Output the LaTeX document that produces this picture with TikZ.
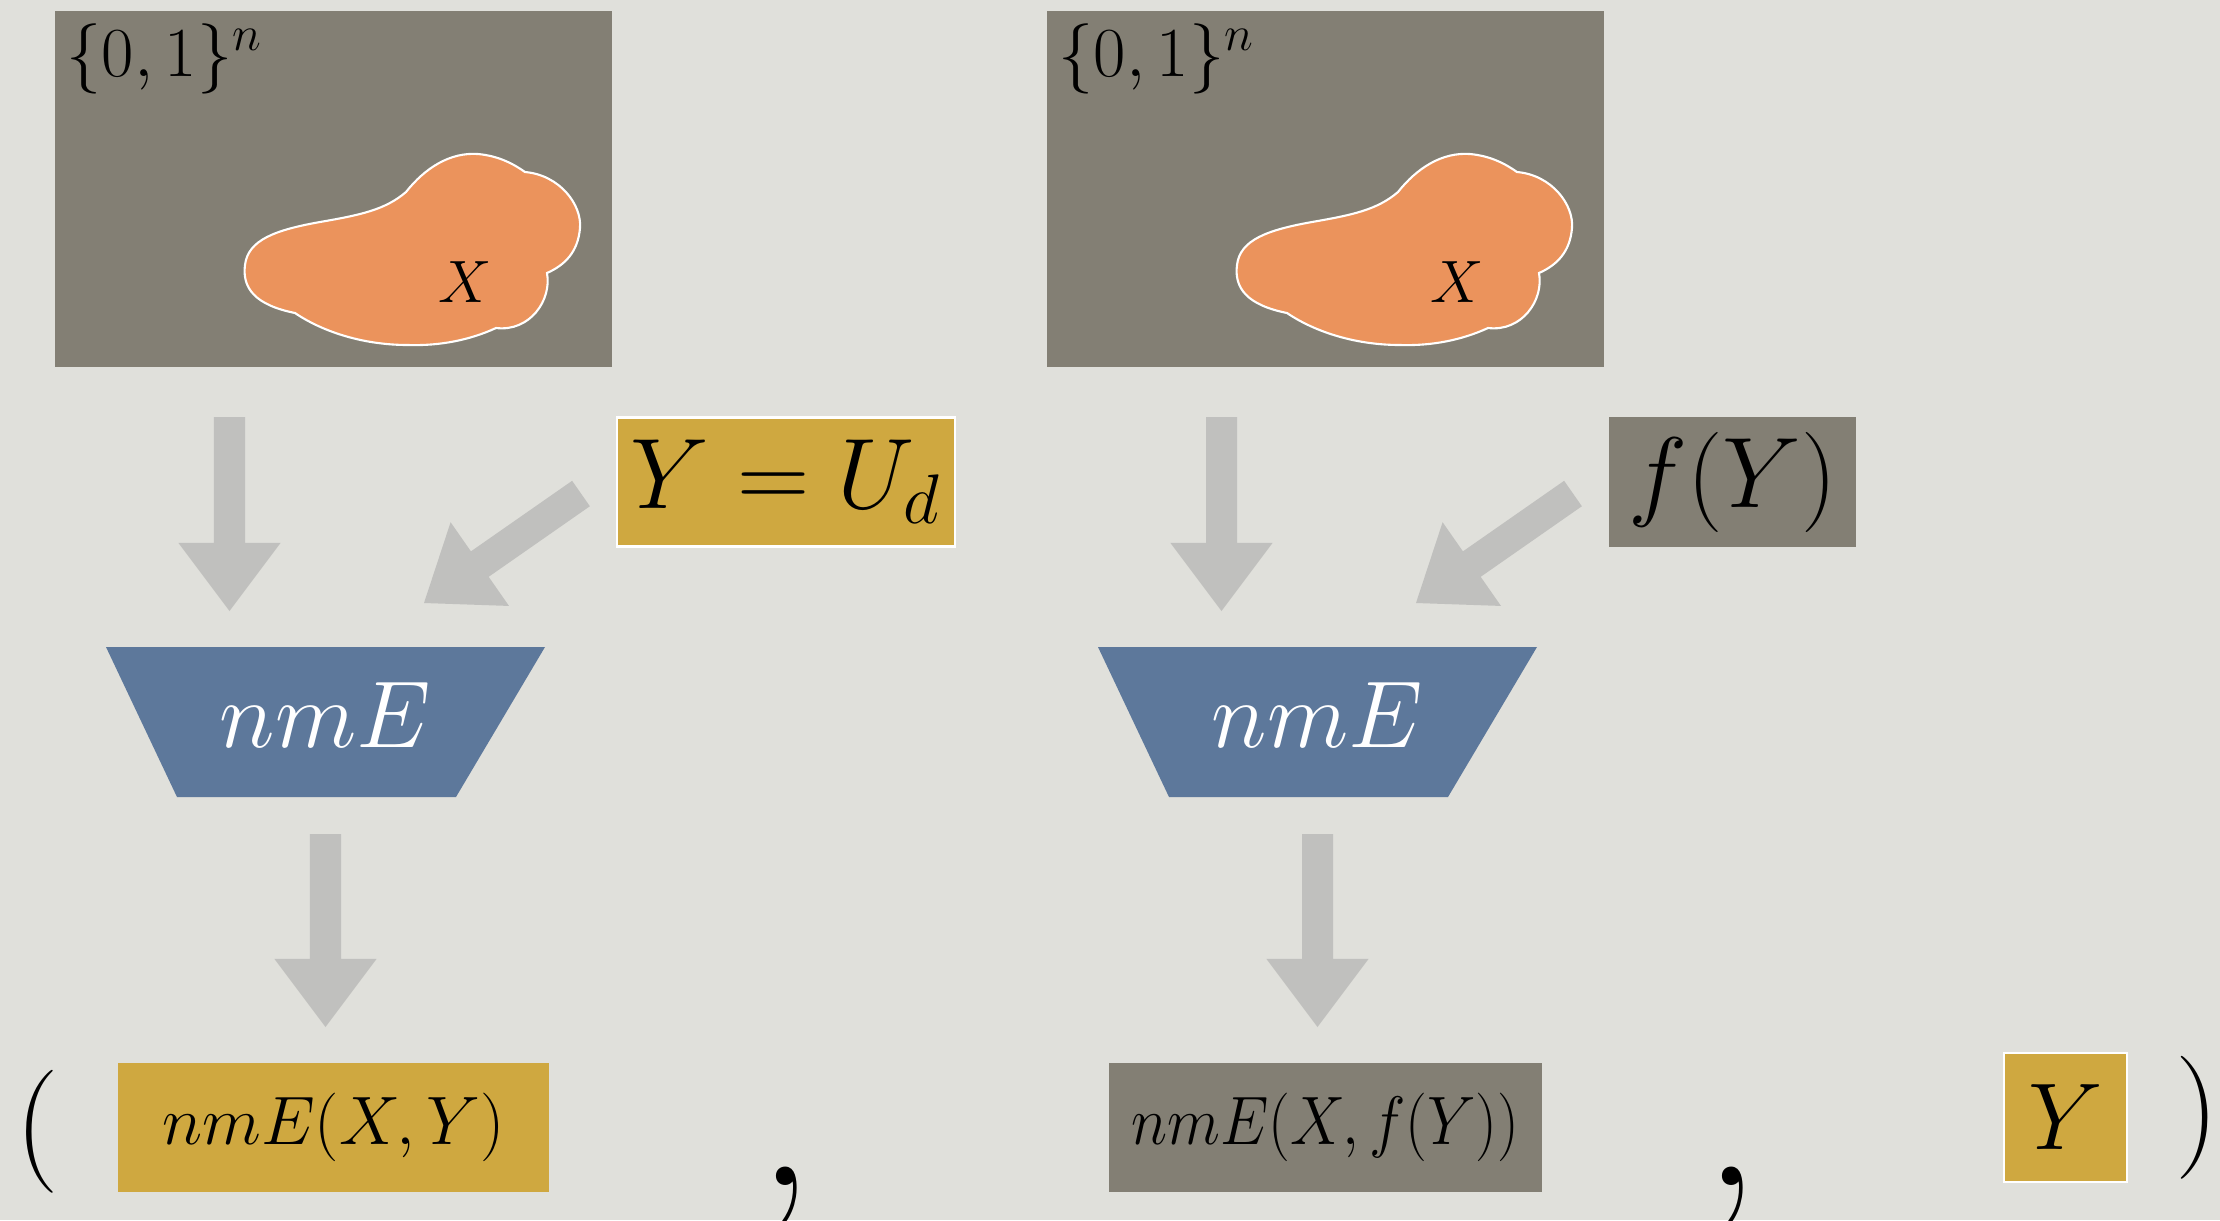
\RequirePackage{fix-cm}
\documentclass[tikz,border=0pt]{standalone}
\usepackage{graphicx}
\usetikzlibrary{calc}
\definecolor{bgc}{RGB}{224,224,219}
\definecolor{darkc}{RGB}{131,127,116}
\definecolor{goldc}{RGB}{207,168,64}
\definecolor{bluec}{RGB}{93,120,155}
\definecolor{orangec}{RGB}{235,147,92}
\definecolor{arrowc}{RGB}{192,192,190}
\newcommand\barrow[2]{%
  \path ($(#2)!6.8mm!(#1)$) coordinate (hb);
  \fill[arrowc] ($(#1)!1.55mm!90:(#2)$) -- ($(hb)!1.55mm!90:(#2)$) -- ($(hb)!5.1mm!90:(#2)$)
     -- (#2) -- ($(hb)!5.1mm!-90:(#2)$) -- ($(hb)!1.55mm!-90:(#2)$) -- ($(#1)!1.55mm!-90:(#2)$) -- cycle;}
\begin{document}
\begin{tikzpicture}[x=0.01cm,y=-0.01cm,
  bigtxt/.style={font=\fontsize{27}{32}\selectfont},
  seedtxt/.style={font=\fontsize{28.5}{34}\selectfont},
  midtxt/.style={font=\fontsize{17}{20}\selectfont},
  settxt/.style={font=\fontsize{20}{24}\selectfont},
  bottxt/.style={font=\fontsize{19.5}{24}\selectfont},
  box/.style={rectangle,inner sep=0pt,anchor=center},
  blobstyle/.style={fill=orangec,draw=white,line width=0.6pt}]
\fill[bgc] (0,0) rectangle (2220,1220);
\useasboundingbox (0,0) rectangle (2220,1220);

% sets
\node[box,fill=darkc,minimum width=5.57cm,minimum height=3.56cm] (set1) at (333.5,189) {};
\node[box,fill=darkc,minimum width=5.57cm,minimum height=3.56cm] (set2) at (1325.5,189) {};
\foreach \dx/\nm in {0/1,992/2}{
  \begin{scope}[shift={(\dx,0)}]
  \path[blobstyle] (295,313) .. controls (255,305) and (242,288) .. (245,265)
    .. controls (248,240) and (275,230) .. (320,222)
    .. controls (360,215) and (385,210) .. (406,192)
    .. controls (425,168) and (450,152) .. (478,154)
    .. controls (500,156) and (515,165) .. (525,172)
    .. controls (560,175) and (582,205) .. (580,228)
    .. controls (578,252) and (565,265) .. (547,273)
    .. controls (552,300) and (530,332) .. (496,328)
    .. controls (470,340) and (440,346) .. (408,345)
    .. controls (360,345) and (320,330) .. (295,313) -- cycle;
  \end{scope}
}
\node[settxt,inner sep=0pt,anchor=base west] (lab1) at (66,76) {$\{0,1\}^n$};
\node[settxt,inner sep=0pt,anchor=base west] (lab2) at (1058,76) {$\{0,1\}^n$};
\node[midtxt,inner sep=0pt,anchor=base] (x1) at (465,302) {$X$};
\node[midtxt,inner sep=0pt,anchor=base] (x2) at (1457,302) {$X$};

% seeds
\node[box,fill=goldc,draw=white,line width=0.6pt,minimum width=3.38cm,minimum height=1.29cm,seedtxt] (seed1) at (786,482) {$Y=U_d$};
\node[box,fill=darkc,minimum width=2.47cm,minimum height=1.30cm,seedtxt] (seed2) at (1732.5,482) {$f(Y)$};

% extractors
\fill[bluec] (106,647) -- (545,647) -- (456,797) -- (177,797) -- cycle;
\fill[bluec] (1098,647) -- (1537,647) -- (1448,797) -- (1169,797) -- cycle;
\node[bigtxt,text=white,inner sep=0pt,anchor=base] (ext1) at (325.5,747) {$nmE$};
\node[bigtxt,text=white,inner sep=0pt,anchor=base] (ext2) at (1317.5,747) {$nmE$};

% arrows
\coordinate (a1s) at (229.5,417); \coordinate (a1e) at (229.5,611);
\coordinate (a2s) at (581,493.5); \coordinate (a2e) at (424,603);
\coordinate (a3s) at (325.5,834); \coordinate (a3e) at (325.5,1027);
\coordinate (b1s) at (1221.5,417); \coordinate (b1e) at (1221.5,611);
\coordinate (b2s) at (1573,493.5); \coordinate (b2e) at (1416,603);
\coordinate (b3s) at (1317.5,834); \coordinate (b3e) at (1317.5,1027);
\barrow{a1s}{a1e}
\barrow{a2s}{a2e}
\barrow{a3s}{a3e}
\barrow{b1s}{b1e}
\barrow{b2s}{b2e}
\barrow{b3s}{b3e}

% outputs
\node[box,fill=goldc,minimum width=4.31cm,minimum height=1.29cm,bottxt] (out1) at (333.5,1127.5) {$nmE(X,Y)$};
\node[box,fill=darkc,minimum width=4.33cm,minimum height=1.29cm,bottxt] (out2) at (1325.5,1127.5) {\scalebox{0.9}[1]{$nmE(X,f(Y))$}};
\node[box,fill=goldc,draw=white,line width=0.6pt,minimum width=1.23cm,minimum height=1.29cm,bigtxt] (yb) at (2065.5,1117.5) {$Y$};

\node[inner sep=0pt,anchor=base,font=\fontsize{35}{40}\selectfont] (lp) at (37.5,1162) {(};
\node[inner sep=0pt,anchor=base,font=\fontsize{35}{40}\selectfont] (rp) at (2197,1148) {)};
\node[inner sep=0pt,anchor=base,font=\fontsize{64}{72}\selectfont] (c1) at (786,1185) {,};
\node[inner sep=0pt,anchor=base,font=\fontsize{64}{72}\selectfont] (c2) at (1732,1185) {,};
\end{tikzpicture}
\end{document}
